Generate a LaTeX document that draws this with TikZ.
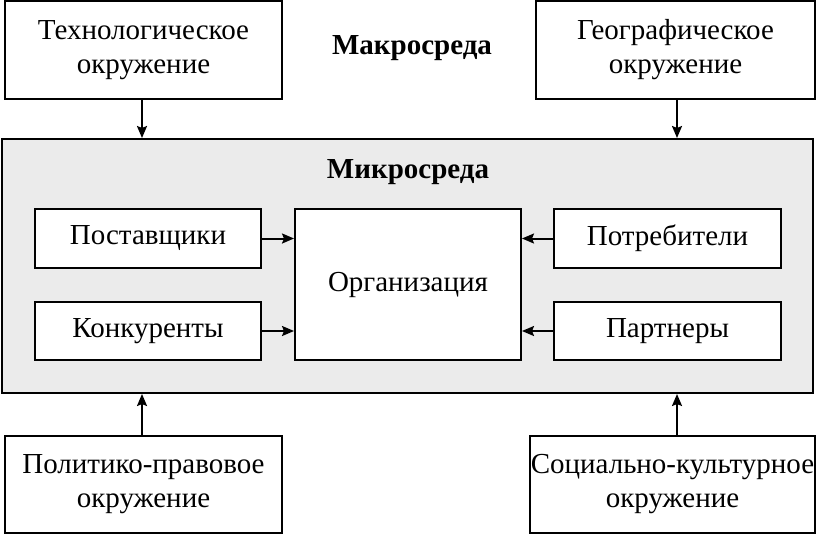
\documentclass[tikz,border=0pt]{standalone}
\usepackage{fontspec}
\setmainfont{Liberation Serif}
\usetikzlibrary{arrows.meta}
\definecolor{envgrey}{HTML}{EBEBEB}
\begin{document}
\begin{tikzpicture}[x=1pt,y=-1pt,
  box/.style={draw=black,line width=2pt,fill=white,align=center,inner sep=0pt,
    font=\fontsize{29}{34}\selectfont},
  bigbox/.style={draw=black,line width=2pt,fill=envgrey,inner sep=0pt},
  title/.style={font=\fontsize{29}{34}\selectfont\bfseries},
  arr/.style={line width=2pt,-{Stealth[length=12pt,width=10pt,inset=2pt]}}]
\useasboundingbox (0,0) rectangle (816,535);
\node[bigbox,minimum width=811pt,minimum height=254pt] (micro) at (407.5,266) {};
\node[title] (macrot) at (412,48) {Макросреда};
\node[title] (microt) at (408,172) {Микросреда};
\node[box,minimum width=277pt,minimum height=97pt] (tech) at (143.5,50) {Технологическое\\окружение};
\node[box,minimum width=279pt,minimum height=97pt] (geo) at (675.5,50) {Географическое\\окружение};
\node[box,minimum width=277pt,minimum height=97pt] (pol) at (143.5,484) {Политико-правовое\\окружение};
\node[box,minimum width=285pt,minimum height=97pt] (soc) at (672.5,484) {Социально-культурное\\окружение};
\node[box,minimum width=226pt,minimum height=59pt] (sup) at (148,238.5) {Поставщики};
\node[box,minimum width=226pt,minimum height=58pt] (comp) at (148,331) {Конкуренты};
\node[box,minimum width=226pt,minimum height=151pt] (org) at (408,284.5) {Организация};
\node[box,minimum width=227pt,minimum height=59pt] (cons) at (667.5,238.5) {Потребители};
\node[box,minimum width=227pt,minimum height=58pt] (part) at (667.5,331) {Партнеры};
\draw[arr] ([xshift=-1.5pt]tech.south) -- ([xshift=-1.5pt]tech.south |- micro.north);
\draw[arr] ([xshift=1.5pt]geo.south) -- ([xshift=1.5pt]geo.south |- micro.north);
\draw[arr] ([xshift=-1.5pt]pol.north) -- ([xshift=-1.5pt]pol.north |- micro.south);
\draw[arr] ([xshift=4.5pt]soc.north) -- ([xshift=4.5pt]soc.north |- micro.south);
\draw[arr] (sup.east) -- (sup.east -| org.west);
\draw[arr] (comp.east) -- (comp.east -| org.west);
\draw[arr] (cons.west) -- (cons.west -| org.east);
\draw[arr] (part.west) -- (part.west -| org.east);
\end{tikzpicture}
\end{document}
